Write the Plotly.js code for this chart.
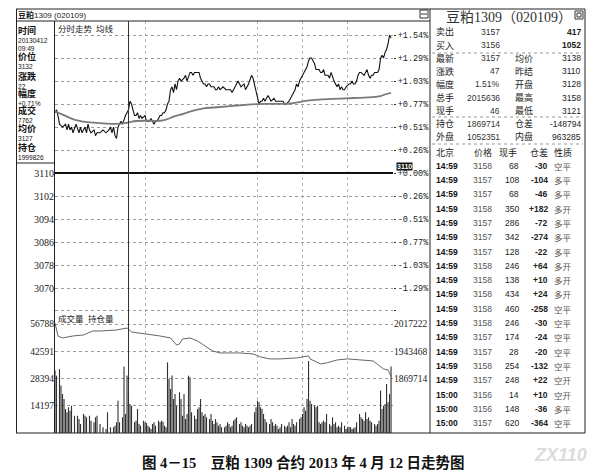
<!DOCTYPE html>
<html><head><meta charset="utf-8">
<script src="https://cdn.plot.ly/plotly-3.0.1.min.js"></script>
<style>html,body{margin:0;padding:0;background:#fff}</style>
</head><body><div id="chart" style="width:608px;height:474px"></div>
<script>
// ---------- data ----------
const priceMinutes = [0,1,2,3,5,7,8,9,10,11,12,13,14,16,17,18,19,20,21,22,23,24,26,27,28,30,32,34,36,37,38,39,40,41,42,43,44,45,46,47,48,49,50,51,52,53,54,55,56,57,58,60,61,62,63,64,65,66,67,68,69,70,71,72,73,74,75,76,77,78,79,80,81,82,83,84,86,87,88,89,90,91,92,93,94,96,97,99,100,101,102,103,104,106,107,108,109,110,112,114,117,118,119,120,121,122,123,124,126,127,129,131,132,133,134,135,136,137,138,139,140,141,142,143,144,146,147,148,149,150,152,153,154,156,157,158,159,160,161,162,163,164,166,167,168,169,170,171,172,173,174,176,177,178,179,180,181,182,183,184,186,187,188,189,190,191,192,193,194,196,197,198,199,200,201,202,203,204,206,207,208,209,210,211,212,213,214,215,216,217,218,219,220,221,222,223,224];
const prices = [3131,3132,3130,3127,3126,3127,3125,3127,3125,3126,3124,3126,3127,3124,3126,3124,3125,3126,3124,3127,3125,3124,3125,3123,3124,3124,3125,3124,3125,3126,3124,3126,3123,3122,3126,3127,3128,3127,3129,3130,3131,3132,3135,3134,3132,3130,3130,3131,3129,3130,3129,3130,3128,3128,3128,3129,3128,3127,3128,3128,3129,3130,3130,3131,3131,3132,3134,3135,3139,3140,3138,3141,3139,3142,3143,3142,3143,3144,3142,3144,3145,3145,3144,3145,3145,3145,3143,3141,3141,3140,3141,3141,3140,3140,3139,3139,3140,3139,3140,3139,3139,3138,3139,3140,3141,3142,3141,3140,3141,3139,3141,3144,3143,3141,3139,3136,3134,3135,3135,3136,3135,3136,3137,3136,3135,3136,3135,3135,3135,3135,3135,3134,3134,3135,3136,3137,3138,3139,3141,3140,3142,3143,3145,3146,3147,3149,3150,3150,3149,3148,3146,3146,3145,3145,3146,3144,3144,3144,3143,3145,3142,3141,3140,3141,3139,3140,3139,3139,3140,3141,3141,3142,3141,3141,3142,3144,3145,3145,3144,3145,3146,3144,3143,3144,3144,3145,3145,3145,3146,3150,3151,3150,3152,3153,3155,3158,3157];

const avgMinutes = [0,3,8,14,23,32,41,48,54,63,70,74,79,83,91,99,106,117,134,157,168,177,194,208,217,221,224];
const avgPrices = [3131.5,3130.8,3129.6,3128.4,3127.6,3127.3,3127.1,3127.5,3128.1,3128.2,3128.2,3128.6,3129.6,3130.2,3131.5,3132.5,3132.8,3133.3,3134,3134.2,3135.2,3135.6,3136,3136.3,3136.8,3137.5,3137.9];

const volMinutes = [0,1,3,4,5,6,7,8,9,10,11,13,15,16,17,19,20,21,23,24,26,27,28,30,32,34,35,37,39,40,41,42,43,45,46,47,48,49,50,51,53,54,55,56,57,59,60,61,62,63,64,65,66,67,69,70,71,72,73,74,75,76,77,78,79,80,81,83,84,85,86,87,88,89,90,91,93,94,95,96,97,98,99,100,101,103,104,105,106,107,108,109,110,111,113,114,115,116,117,118,119,120,121,123,124,125,126,127,128,129,130,131,133,134,135,136,137,138,139,140,141,143,144,145,146,147,148,149,150,151,153,154,155,156,157,158,159,160,161,163,164,165,166,167,168,169,170,171,173,174,175,176,177,178,179,180,181,183,184,185,186,187,188,189,190,191,193,194,195,196,197,198,199,200,201,203,204,205,206,207,208,209,210,211,213,214,215,216,217,218,219,220,221,222,223,224];
const volumes = [32500,29900,33300,24700,20300,17700,12500,10800,13400,11600,14200,9000,9000,7300,4700,9900,9000,8200,9000,6400,5600,8200,9000,4700,3000,2100,10800,3000,3000,3800,5600,16800,5600,8200,34700,9900,29900,20300,15100,14200,5600,6400,12500,4700,3800,6400,5600,5200,3800,3000,2100,4700,5600,3800,6400,5600,6400,5900,3800,3000,36800,28100,22900,29900,17700,20300,14200,21200,17700,9000,20300,7300,9900,29900,29000,10800,9000,7300,12500,13400,17700,10800,9000,9900,8200,7300,9900,6400,4700,7300,5600,3800,4700,3000,3000,3800,5600,4700,3000,3800,6400,7300,8200,4700,5600,3800,3000,4700,3800,3000,3800,4700,10800,13400,16800,16000,13400,12500,9900,7300,5600,4700,7300,5600,3800,4700,3800,2100,3000,4700,3800,3000,3800,5600,3000,7300,4700,3800,5600,7300,8200,9900,13400,11600,17700,37500,16800,15100,14200,13400,14200,5600,4700,5600,6400,5600,9900,4700,3800,8200,4700,5600,3000,3800,3000,5600,3800,2100,3000,3300,3000,2100,2400,3000,5600,9900,8200,7300,6400,10800,7300,8200,6400,5600,4700,3800,4700,6400,22100,12500,14200,15100,25500,16000,20300,34700];

const oiMinutes = [0,2,5,12,19,25,30,41,48,49,51,61,70,77,81,83,85,90,95,99,105,110,117,123,132,137,143,150,161,169,170,177,181,188,195,205,212,219,222,224];
const openInterest = [2019900,1984800,1979400,1984800,1987500,1998300,1998300,2001000,2006400,2003700,1995600,1990200,1984800,1979400,1960500,1963200,1976700,1979400,1971300,1960500,1944300,1938900,1938900,1938900,1936200,1928100,1922700,1922700,1925400,1930800,1922700,1909200,1911900,1919900,1922700,1919900,1917300,1895600,1892900,1875000];

const priceTicks = [3110,3102,3094,3086,3078,3070];
const pctTickVals = [3158,3150,3142,3134,3126,3118,3110,3102,3094,3086,3078,3070,3062];
const pctTickText = ['+1.54%','+1.29%','+1.03%','+0.77%','+0.51%','+0.26%','+0.00%','-0.26%','-0.51%','-0.77%','-1.03%','-1.29%',''];
const volTicks = [14197,28394,42591,56788];
const oiTicks = [2017222,1943468,1869714];
const timeGrid = [60,135,165,195];
const crossMinute = 49;

const infoLabels = ['时间','价位','涨跌','幅度','成交','均价','持仓'];
const infoValues = [['20130412','09:49'],['3132'],['22'],['+0.71%'],['7762'],['3127'],['1999826']];

const quoteLabelsL = ['卖出','买入','最新','涨跌','幅度','总手','现手','持仓','外盘'];
const quoteValuesL = ['3157','3156','3157','47','1.51%','2015636','46','1869714','1052351'];
const quoteLabelsR = ['','','均价','昨结','开盘','最高','最低','仓差','内盘'];
const quoteValuesR = ['417','1052','3138','3110','3128','3158','3121','-148794','963285'];

const tradeHeader = ['北京','价格','现手','仓差','性质'];
const tradeTimes = ['14:59','14:59','14:59','14:59','14:59','14:59','14:59','14:59','14:59','14:59','14:59','14:59','14:59','14:59','14:59','14:59','15:00','15:00','15:00'];
const tradePrices = [3158,3157,3157,3158,3157,3157,3157,3158,3158,3158,3158,3158,3157,3157,3158,3157,3156,3156,3157];
const tradeVols = [68,108,68,350,286,342,128,246,138,434,460,246,174,28,254,248,14,148,620];
const tradeDiffs = ['-30','-104','-46','+182','-72','-274','-22','+64','+10','+24','-258','-30','-24','-20','-132','+22','+10','-36','-364'];
const tradeTypes = ['空平','多平','多平','多开','多平','多平','多平','多开','多开','多开','空平','空平','空平','空平','空平','空开','空开','多平','空平'];

// ---------- layout helpers ----------
const W = 608, H = 474;
const PX = v => v / W, PY = v => 1 - v / H;
const CJK = 'Noto Sans CJK SC';
const SANS = 'Liberation Sans, ' + CJK;
const SERIF = 'Liberation Serif, ' + CJK;

function T(x, y, text, o) {
  o = o || {};
  return {
    xref: 'paper', yref: 'paper', x: PX(x), y: PY(y), text: text, showarrow: false,
    xanchor: o.xanchor || 'left', yanchor: o.yanchor || 'middle', borderpad: 0, align: 'left',
    bgcolor: o.bgcolor,
    font: { family: o.family || SANS, size: o.size || 9, color: o.color || '#222', weight: o.weight || 'normal' }
  };
}
function L(x0, y0, x1, y1, o) {
  o = o || {};
  return { type: 'line', xref: 'paper', yref: 'paper', x0: PX(x0), y0: PY(y0), x1: PX(x1), y1: PY(y1),
    line: { color: o.color || '#222', width: o.width || 1, dash: o.dash || 'solid' } };
}

const annotations = [];
const shapes = [];

// frame
shapes.push(L(16, 9, 585, 9));
shapes.push(L(16.5, 9, 16.5, 433));
shapes.push(L(16, 433, 585, 433));
shapes.push(L(585, 9, 585, 433));
shapes.push(L(16, 21, 430, 21));
shapes.push(L(54.5, 21, 54.5, 433));
shapes.push(L(16, 163, 54.5, 163));
shapes.push(L(430, 9, 430, 433));
[53, 117, 144].forEach(y => shapes.push(L(432, y, 583, y, { dash: 'dot', color: '#999' })));
// small icons
shapes.push({ type: 'rect', xref: 'paper', yref: 'paper', x0: PX(420), x1: PX(428), y0: PY(18), y1: PY(10), line: { color: '#333', width: 1 } });
shapes.push(L(421, 14, 427, 14, { color: '#333' }));
shapes.push({ type: 'rect', xref: 'paper', yref: 'paper', x0: PX(575), x1: PX(583), y0: PY(19), y1: PY(11), line: { color: '#333', width: 1 } });
shapes.push({ type: 'rect', xref: 'paper', yref: 'paper', x0: PX(577), x1: PX(581), y0: PY(17), y1: PY(13), line: { color: '#333', width: 1 } });

// zero (previous settlement) line and crosshair
shapes.push({ type: 'line', xref: 'x', yref: 'y', x0: 0, x1: 225.3, y0: priceTicks[0], y1: priceTicks[0], line: { color: '#111', width: 2 } });
shapes.push({ type: 'line', xref: 'x', yref: 'paper', x0: crossMinute, x1: crossMinute, y0: PY(433), y1: PY(21), line: { color: '#333', width: 1 } });

// headers
annotations.push(T(17, 15, '<b>豆粕</b>1309 (020109)', { size: 8 }));
annotations.push(T(57, 28, '分时走势', { size: 8.5, family: CJK }));
annotations.push(T(95, 28, '均线', { size: 8.5, family: CJK }));
annotations.push(T(57, 318, '成交量', { size: 8.5, family: CJK }));
annotations.push(T(87, 318, '持仓量', { size: 8.5, family: CJK }));
annotations.push(T(404, 166.5, '<b>3110</b>', { xanchor: 'center', size: 7, color: '#fff', bgcolor: '#111' }));

// info box: one block per item (label on top, value(s) underneath)
const infoTopY = [24.5, 50.5, 70, 87, 104, 121.5, 141];
infoLabels.forEach((lab, i) => {
  const txt = '<span style="font-size:9px;font-weight:bold">' + lab + '</span><br>' + infoValues[i].join('<br>');
  annotations.push(T(17, infoTopY[i], txt, { size: 6.6, color: '#111', yanchor: 'top' }));
});

// right quote panel
annotations.push(T(509, 17, '豆粕1309（020109）', { xanchor: 'center', size: 14, family: SERIF, color: '#333' }));
quoteLabelsL.forEach((lab, i) => {
  const y = 32 + i * 13.1;
  annotations.push(T(435, y, lab, { size: 9, family: CJK, color: '#222' }));
  annotations.push(T(501, y, quoteValuesL[i], { xanchor: 'right', size: 8.5, color: '#333' }));
  if (quoteLabelsR[i]) annotations.push(T(514, y, quoteLabelsR[i], { size: 9, family: CJK, color: '#222' }));
  annotations.push(T(582, y, quoteValuesR[i], { xanchor: 'right', size: 8.5, color: '#222', weight: (i < 2 ? 'bold' : 'normal') }));
});
// trades header
annotations.push(T(435, 152, tradeHeader[0], { size: 9, family: CJK }));
annotations.push(T(493, 152, tradeHeader[1], { xanchor: 'right', size: 9, family: CJK }));
annotations.push(T(518, 152, tradeHeader[2], { xanchor: 'right', size: 9, family: CJK }));
annotations.push(T(549, 152, tradeHeader[3], { xanchor: 'right', size: 9, family: CJK }));
annotations.push(T(553, 152, tradeHeader[4], { size: 9, family: CJK }));
tradeTimes.forEach((t, i) => {
  const y = 165.7 + i * 14.31;
  annotations.push(T(435, y, '<b>' + t + '</b>', { size: 8.5, color: '#111' }));
  annotations.push(T(493, y, String(tradePrices[i]), { xanchor: 'right', size: 8.5, color: '#555' }));
  annotations.push(T(520, y, String(tradeVols[i]), { xanchor: 'right', size: 8.5, color: '#222' }));
  annotations.push(T(549, y, '<b>' + tradeDiffs[i] + '</b>', { xanchor: 'right', size: 8.5, color: '#222' }));
  annotations.push(T(553, y, tradeTypes[i], { size: 8.5, family: CJK, color: '#555' }));
});

// caption and watermark
annotations.push(T(303, 462, '<b>图 4－15　豆粕 1309 合约 2013 年 4 月 12 日走势图</b>', { xanchor: 'center', size: 14.5, family: SERIF, color: '#111' }));
annotations.push(T(560, 455, '<i><b>ZX110</b></i>', { xanchor: 'center', size: 18, color: '#dcdcdc' }));

// ---------- traces ----------
const traces = [
  { x: priceMinutes, y: prices, xaxis: 'x', yaxis: 'y', type: 'scatter', mode: 'lines', line: { color: '#111', width: 1.1 }, hoverinfo: 'skip' },
  { x: avgMinutes, y: avgPrices, xaxis: 'x', yaxis: 'y', type: 'scatter', mode: 'lines', line: { color: '#7a7a7a', width: 1.8, shape: 'spline' }, hoverinfo: 'skip' },
  { x: priceMinutes, y: prices, xaxis: 'x', yaxis: 'y2', type: 'scatter', mode: 'lines', line: { color: 'rgba(0,0,0,0)', width: 0 }, hoverinfo: 'skip' },
  { x: volMinutes, y: volumes, xaxis: 'x2', yaxis: 'y3', type: 'bar', width: 0.75, marker: { color: '#333', line: { width: 0 } }, hoverinfo: 'skip' },
  { x: oiMinutes, y: openInterest, xaxis: 'x2', yaxis: 'y4', type: 'scatter', mode: 'lines', line: { color: '#666', width: 1 }, hoverinfo: 'skip' }
];

const xCommon = {
  domain: [PX(55), PX(393)], range: [0, 225.3], showticklabels: false, ticks: '',
  tickmode: 'array', tickvals: timeGrid, showgrid: true, gridcolor: '#b5b5b5', griddash: 'dot', gridwidth: 1,
  zeroline: false, showline: false, fixedrange: true
};

const layout = {
  width: W, height: H, margin: { l: 0, r: 0, t: 0, b: 0, pad: 0 },
  paper_bgcolor: '#fff', plot_bgcolor: 'rgba(0,0,0,0)', showlegend: false,
  font: { family: SANS, size: 9, color: '#222' },
  xaxis: Object.assign({}, xCommon, { anchor: 'y' }),
  xaxis2: Object.assign({}, xCommon, { anchor: 'y3', matches: 'x' }),
  yaxis: {
    domain: [PY(313), PY(21)], range: [3061.3, 3162.9], anchor: 'x', side: 'left',
    tickmode: 'array', tickvals: priceTicks, ticktext: priceTicks.map(String), ticks: '',
    tickfont: { family: 'Liberation Serif', size: 10, color: '#222' },
    showgrid: false, zeroline: false, showline: false, fixedrange: true
  },
  yaxis2: {
    overlaying: 'y', anchor: 'x', side: 'right', range: [3061.3, 3162.9],
    tickmode: 'array', tickvals: pctTickVals, ticktext: pctTickText, ticks: 'outside', ticklen: 2, tickcolor: '#333',
    tickfont: { family: 'Liberation Mono', size: 8.5, color: '#222' },
    showgrid: true, gridcolor: '#9a9a9a', griddash: 'dot', gridwidth: 1, zeroline: false, showline: false, fixedrange: true
  },
  yaxis3: {
    domain: [PY(433), PY(313)], range: [0, 62520], anchor: 'x2', side: 'left',
    tickmode: 'array', tickvals: volTicks, ticktext: volTicks.map(String), ticks: '',
    tickfont: { family: 'Liberation Serif', size: 9.5, color: '#222' },
    showgrid: true, gridcolor: '#9a9a9a', griddash: 'dot', gridwidth: 1, zeroline: false, showline: false, fixedrange: true
  },
  yaxis4: {
    overlaying: 'y3', anchor: 'x2', side: 'right', range: [1722208, 2047000],
    tickmode: 'array', tickvals: oiTicks, ticktext: oiTicks.map(String), ticks: '',
    tickfont: { family: 'Liberation Serif', size: 9.5, color: '#222' },
    showgrid: false, zeroline: false, showline: false, fixedrange: true
  },
  shapes: shapes,
  annotations: annotations
};

Plotly.newPlot('chart', traces, layout, { staticPlot: true, displayModeBar: false });
</script></body></html>
